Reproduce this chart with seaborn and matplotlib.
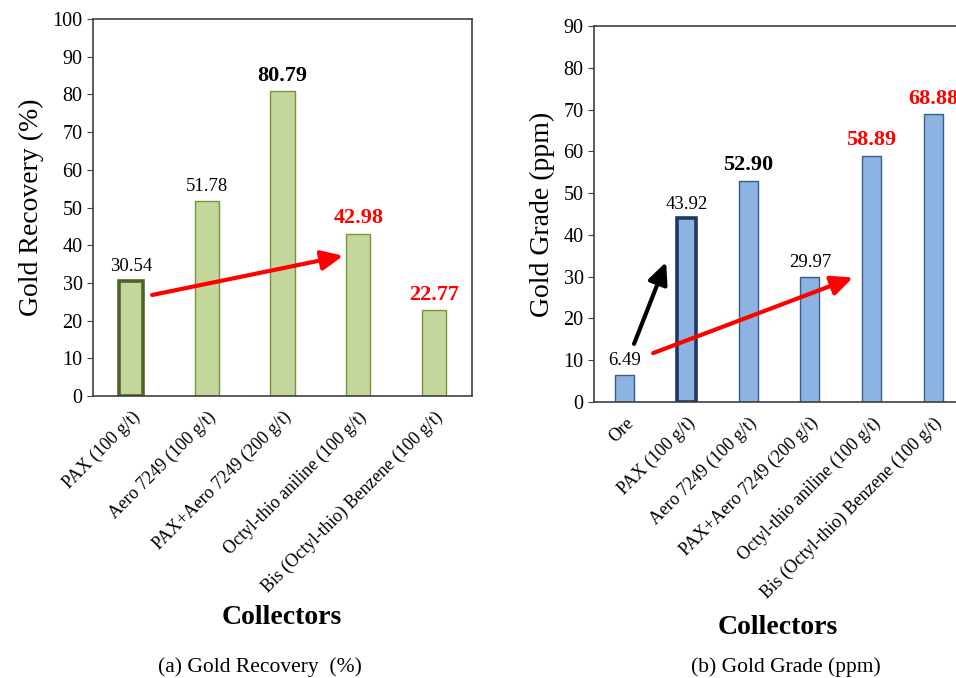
import numpy as np
import pandas as pd
import matplotlib
matplotlib.use("Agg")
import matplotlib.pyplot as plt
import seaborn as sns

# Data
rec_collectors = ["PAX (100 g/t)", "Aero 7249 (100 g/t)", "PAX+Aero 7249 (200 g/t)",
                  "Octyl-thio aniline (100 g/t)", "Bis (Octyl-thio) Benzene (100 g/t)"]
rec_values = [30.54, 51.78, 80.79, 42.98, 22.77]
rec_label_color = ["black", "black", "black", "red", "red"]
rec_label_bold = [False, False, True, True, True]

grade_collectors = ["Ore"] + rec_collectors
grade_values = [6.49, 43.92, 52.90, 29.97, 58.89, 68.88]
grade_label_color = ["black", "black", "black", "black", "red", "red"]
grade_label_bold = [False, False, True, False, True, True]

# arrows (data coords): (x0, y0, x1, y1, color)
rec_arrows = [(0.28, 26.8, 2.8, 37.2, "red")]
grade_arrows = [(0.15, 13.9, 0.67, 33.5, "black"),
                (0.46, 11.7, 3.70, 29.8, "red")]

sns.set_style("ticks")
plt.rcParams["font.family"] = ["Liberation Serif", "DejaVu Serif"]
plt.rcParams["text.color"] = "black"
plt.rcParams["axes.labelcolor"] = "black"
plt.rcParams["xtick.color"] = "black"
plt.rcParams["ytick.color"] = "black"

fig = plt.figure(figsize=(9.56, 6.78), dpi=100)
ax1 = fig.add_axes([0.0973, 0.4159, 0.3964, 0.556])
ax2 = fig.add_axes([0.6213, 0.4071, 0.387, 0.5546])


def draw(ax, cats, vals, colors, bolds, face, edge, hi_edge, hi_idx, width, ymax, ylabel, arrows):
    df = pd.DataFrame({"collector": cats, "value": vals})
    sns.barplot(data=df, x="collector", y="value", color=face, width=width,
                saturation=1, edgecolor=edge, linewidth=1.0, ax=ax)
    for i, p in enumerate(ax.patches):
        if i == hi_idx:
            p.set_edgecolor(hi_edge)
            p.set_linewidth(2.6)
    for i, v in enumerate(vals):
        ax.annotate(f"{v:.2f}", (i, v), xytext=(0, 4), textcoords="offset points",
                    ha="center", va="bottom", color=colors[i],
                    fontsize=16 if bolds[i] else 13.5,
                    fontweight="bold" if bolds[i] else "normal")
    for x0, y0, x1, y1, c in arrows:
        ax.annotate("", xy=(x1, y1), xytext=(x0, y0),
                    arrowprops=dict(arrowstyle="-|>,head_length=1.3,head_width=0.6",
                                    color=c, lw=3, shrinkA=0, shrinkB=0))
    ax.set_xlim(-0.5, len(cats) - 0.5)
    ax.set_ylim(0, ymax)
    ax.set_yticks(np.arange(0, ymax + 1, 10))
    ax.tick_params(axis="y", labelsize=14.5, length=4, color="#404040")
    ax.tick_params(axis="x", length=0, labelsize=13, pad=9)
    plt.setp(ax.get_xticklabels(), rotation=45, ha="right", rotation_mode="anchor")
    ax.set_ylabel(ylabel, fontsize=20, labelpad=6)
    ax.set_xlabel("")
    for s in ax.spines.values():
        s.set_visible(True)
        s.set_color("#404040")
        s.set_linewidth(1.2)


draw(ax1, rec_collectors, rec_values, rec_label_color, rec_label_bold,
     "#c3d69b", "#77933c", "#4f6228", 0, 0.32, 100, "Gold Recovery (%)", rec_arrows)
draw(ax2, grade_collectors, grade_values, grade_label_color, grade_label_bold,
     "#8db3e2", "#385d8a", "#1f3763", 1, 0.31, 90, "Gold Grade (ppm)", grade_arrows)

fig.text(0.295, 0.0885, "Collectors", ha="center", va="center", fontsize=20, fontweight="bold")
fig.text(0.814, 0.075, "Collectors", ha="center", va="center", fontsize=20, fontweight="bold")
fig.text(0.272, 0.016, "(a) Gold Recovery  (%)", ha="center", va="center", fontsize=15.5)
fig.text(0.822, 0.016, "(b) Gold Grade (ppm)", ha="center", va="center", fontsize=15.5)

fig.savefig("out.png", dpi=100)
